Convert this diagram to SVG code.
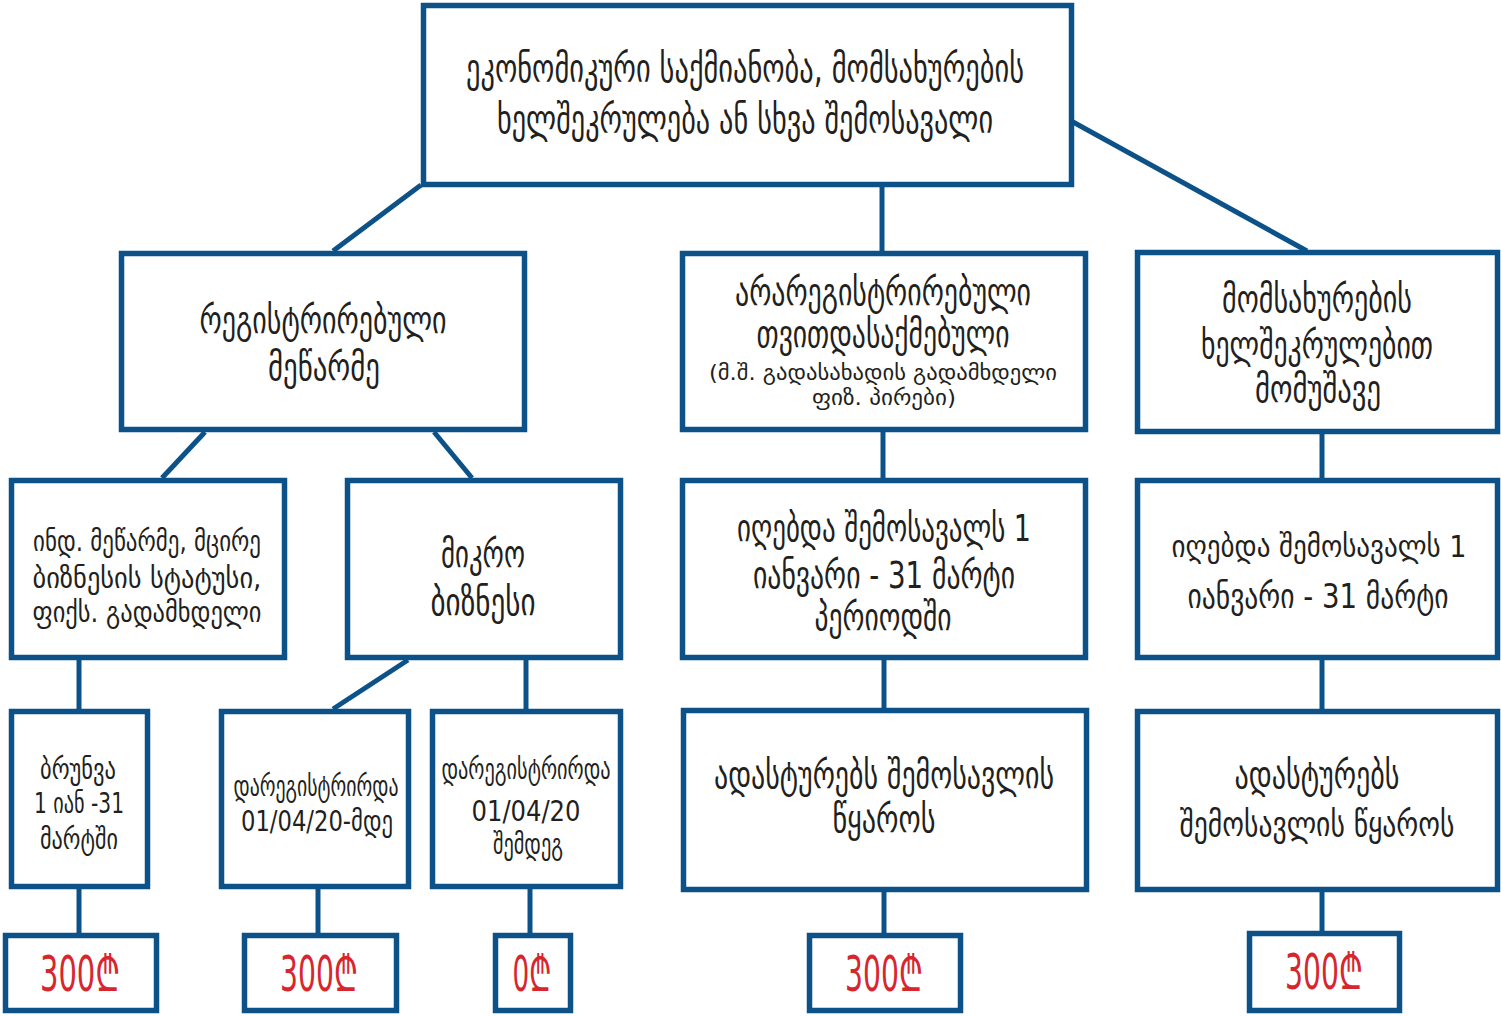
<svg xmlns="http://www.w3.org/2000/svg" width="1501" height="1016" viewBox="0 0 1501 1016">
<style>
.box{fill:#ffffff;stroke:#0c5289;stroke-width:5.5}
.ln{stroke:#0c5289;stroke-width:5;fill:none}
.t{font-family:"DejaVu Sans Condensed","DejaVu Sans","Noto Sans",sans-serif;fill:#231f20;text-anchor:middle}
.big{font-size:40px}
.m{font-size:38px}
.mn{font-size:34px}
.ms{font-size:31px}
.s{font-size:29px}
.sub{font-size:22px}
.r{font-family:"DejaVu Sans Condensed","DejaVu Sans","Noto Sans",sans-serif;fill:#d7262e;text-anchor:middle;font-size:50px}
</style>
<rect x="0" y="0" width="1501" height="1016" fill="#ffffff"/>
<g id="connectors">
<line class="ln" x1="421" y1="185" x2="333" y2="251"/>
<line class="ln" x1="882" y1="187" x2="882" y2="251"/>
<line class="ln" x1="1073" y1="122" x2="1307" y2="251"/>
<line class="ln" x1="205" y1="432" x2="162" y2="478"/>
<line class="ln" x1="434" y1="432" x2="472" y2="478"/>
<line class="ln" x1="883" y1="432" x2="883" y2="478"/>
<line class="ln" x1="1322" y1="434" x2="1322" y2="478"/>
<line class="ln" x1="79" y1="660" x2="79" y2="709"/>
<line class="ln" x1="408" y1="660" x2="333" y2="709"/>
<line class="ln" x1="526" y1="660" x2="526" y2="709"/>
<line class="ln" x1="884" y1="660" x2="884" y2="708"/>
<line class="ln" x1="1322" y1="660" x2="1322" y2="709"/>
<line class="ln" x1="79" y1="889" x2="79" y2="933"/>
<line class="ln" x1="318" y1="889" x2="318" y2="933"/>
<line class="ln" x1="530" y1="889" x2="530" y2="933"/>
<line class="ln" x1="884" y1="892" x2="884" y2="933"/>
<line class="ln" x1="1322" y1="892" x2="1322" y2="931"/>
</g>
<g id="top">
<rect class="box" x="423.5" y="5.5" width="648" height="179"/>
<text class="t big" x="745" y="82" textLength="558" lengthAdjust="spacingAndGlyphs">ეკონომიკური საქმიანობა, მომსახურების</text>
<text class="t big" x="745" y="133" textLength="496" lengthAdjust="spacingAndGlyphs">ხელშეკრულება ან სხვა შემოსავალი</text>
</g>
<g id="registered">
<rect class="box" x="121.5" y="253.5" width="403" height="176"/>
<text class="t m" x="323" y="333" textLength="247" lengthAdjust="spacingAndGlyphs">რეგისტრირებული</text>
<text class="t m" x="324" y="380" textLength="112" lengthAdjust="spacingAndGlyphs">მეწარმე</text>
</g>
<g id="unregistered">
<rect class="box" x="682.5" y="253.5" width="403" height="176"/>
<text class="t m" x="883" y="305" textLength="296" lengthAdjust="spacingAndGlyphs">არარეგისტრირებული</text>
<text class="t m" x="883" y="347" textLength="253" lengthAdjust="spacingAndGlyphs">თვითდასაქმებული</text>
<text class="t sub" x="883" y="380" textLength="348" lengthAdjust="spacingAndGlyphs">(მ.შ. გადასახადის გადამხდელი</text>
<text class="t sub" x="884" y="405" textLength="144" lengthAdjust="spacingAndGlyphs">ფიზ. პირები)</text>
</g>
<g id="contract">
<rect class="box" x="1137.5" y="252.5" width="360" height="179"/>
<text class="t m" x="1317" y="312" textLength="190" lengthAdjust="spacingAndGlyphs">მომსახურების</text>
<text class="t m" x="1317" y="358" textLength="232" lengthAdjust="spacingAndGlyphs">ხელშეკრულებით</text>
<text class="t m" x="1318" y="402" textLength="126" lengthAdjust="spacingAndGlyphs">მომუშავე</text>
</g>
<g id="individual">
<rect class="box" x="11.5" y="480.5" width="273" height="177"/>
<text class="t s" x="147" y="551" textLength="228" lengthAdjust="spacingAndGlyphs">ინდ. მეწარმე, მცირე</text>
<text class="t s" x="147" y="588" textLength="229" lengthAdjust="spacingAndGlyphs">ბიზნესის სტატუსი,</text>
<text class="t s" x="147" y="622" textLength="229" lengthAdjust="spacingAndGlyphs">ფიქს. გადამხდელი</text>
</g>
<g id="micro">
<rect class="box" x="347.5" y="480.5" width="273" height="177"/>
<text class="t m" x="483" y="567" textLength="84" lengthAdjust="spacingAndGlyphs">მიკრო</text>
<text class="t m" x="483" y="615" textLength="105" lengthAdjust="spacingAndGlyphs">ბიზნესი</text>
</g>
<g id="income1">
<rect class="box" x="682.5" y="480.5" width="403" height="177"/>
<text class="t m" x="884" y="541" textLength="294" lengthAdjust="spacingAndGlyphs">იღებდა შემოსავალს 1</text>
<text class="t m" x="884" y="588" textLength="262" lengthAdjust="spacingAndGlyphs">იანვარი - 31 მარტი</text>
<text class="t m" x="883" y="630" textLength="137" lengthAdjust="spacingAndGlyphs">პერიოდში</text>
</g>
<g id="income2">
<rect class="box" x="1137.5" y="480.5" width="360" height="177"/>
<text class="t ms" x="1319" y="557" textLength="295" lengthAdjust="spacingAndGlyphs">იღებდა შემოსავალს 1</text>
<text class="t mn" x="1318" y="608" textLength="261" lengthAdjust="spacingAndGlyphs">იანვარი - 31 მარტი</text>
</g>
<g id="turnover">
<rect class="box" x="11.5" y="711.5" width="136" height="175"/>
<text class="t s" x="78" y="779" textLength="76" lengthAdjust="spacingAndGlyphs">ბრუნვა</text>
<text class="t s" x="79" y="813" textLength="90" lengthAdjust="spacingAndGlyphs">1 იან -31</text>
<text class="t s" x="79" y="849" textLength="78" lengthAdjust="spacingAndGlyphs">მარტში</text>
</g>
<g id="before">
<rect class="box" x="221.5" y="711.5" width="187" height="175"/>
<text class="t s" x="316" y="796" textLength="165" lengthAdjust="spacingAndGlyphs">დარეგისტრირდა</text>
<text class="t s" x="317" y="831" textLength="152" lengthAdjust="spacingAndGlyphs">01/04/20-მდე</text>
</g>
<g id="after">
<rect class="box" x="432.5" y="711.5" width="188" height="175"/>
<text class="t s" x="526" y="779" textLength="169" lengthAdjust="spacingAndGlyphs">დარეგისტრირდა</text>
<text class="t s" x="526" y="821" textLength="109" lengthAdjust="spacingAndGlyphs">01/04/20</text>
<text class="t s" x="528" y="854" textLength="70" lengthAdjust="spacingAndGlyphs">შემდეგ</text>
</g>
<g id="confirm1">
<rect class="box" x="683.5" y="710.5" width="403" height="179"/>
<text class="t m" x="884" y="788" textLength="340" lengthAdjust="spacingAndGlyphs">ადასტურებს შემოსავლის</text>
<text class="t m" x="884" y="832" textLength="103" lengthAdjust="spacingAndGlyphs">წყაროს</text>
</g>
<g id="confirm2">
<rect class="box" x="1137.5" y="711.5" width="360" height="178"/>
<text class="t m" x="1317" y="788" textLength="165" lengthAdjust="spacingAndGlyphs">ადასტურებს</text>
<text class="t mn" x="1317" y="836" textLength="275" lengthAdjust="spacingAndGlyphs">შემოსავლის წყაროს</text>
</g>
<g id="amount1">
<rect class="box" x="5.5" y="935.5" width="151" height="75"/>
<text class="r" x="80" y="991" textLength="80" lengthAdjust="spacingAndGlyphs">300₾</text>
</g>
<g id="amount2">
<rect class="box" x="244.5" y="935.5" width="152" height="75"/>
<text class="r" x="319" y="991" textLength="78" lengthAdjust="spacingAndGlyphs">300₾</text>
</g>
<g id="amount3">
<rect class="box" x="495.5" y="935.5" width="75" height="75"/>
<text class="r" x="532" y="991" textLength="39" lengthAdjust="spacingAndGlyphs">0₾</text>
</g>
<g id="amount4">
<rect class="box" x="809.5" y="935.5" width="151" height="75"/>
<text class="r" x="884" y="991" textLength="78" lengthAdjust="spacingAndGlyphs">300₾</text>
</g>
<g id="amount5">
<rect class="box" x="1249.5" y="933.5" width="150" height="77"/>
<text class="r" x="1324" y="989" textLength="78" lengthAdjust="spacingAndGlyphs">300₾</text>
</g>
</svg>
